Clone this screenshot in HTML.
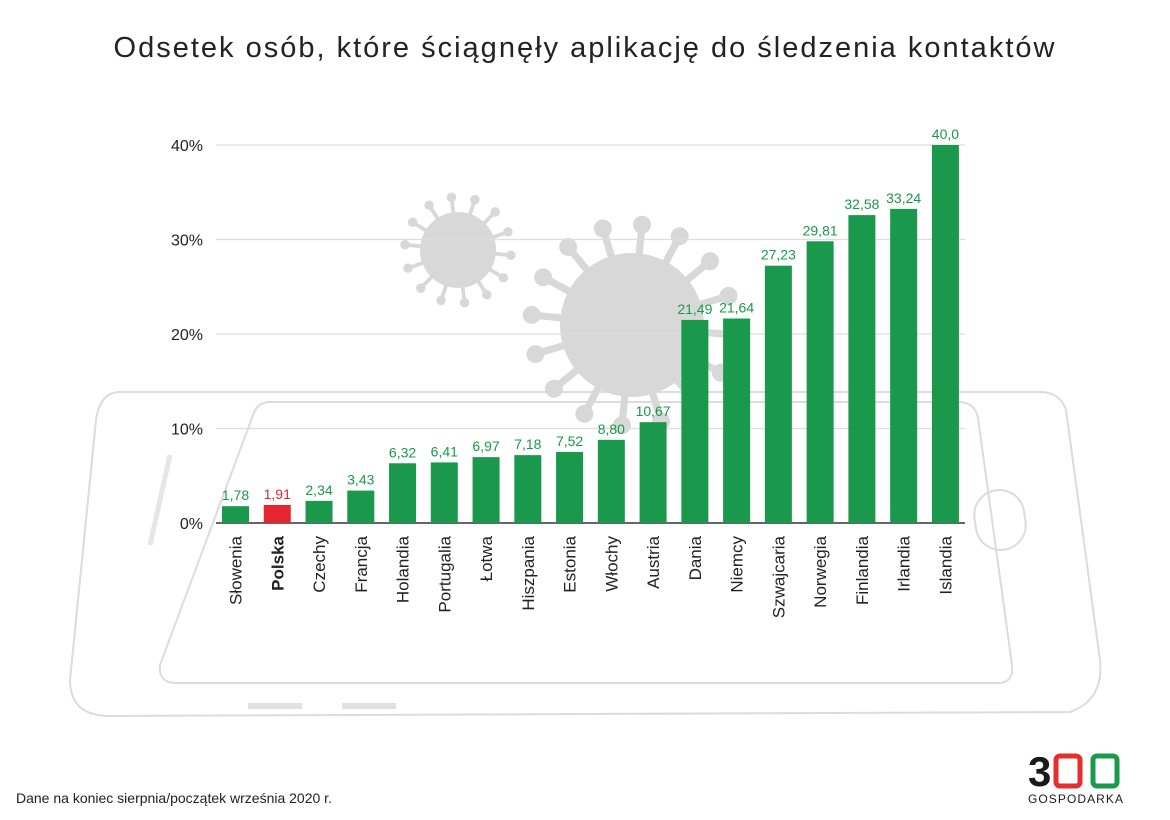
<!DOCTYPE html>
<html><head><meta charset="utf-8"><style>
body{margin:0;background:#fff;width:1170px;height:820px;overflow:hidden;font-family:"Liberation Sans",sans-serif}
svg{display:block}
</style></head><body>
<svg id="c" width="1170" height="820" xmlns="http://www.w3.org/2000/svg">
<g fill="none" stroke="#dcdcdc" stroke-width="2">
<path d="M120,392 L1040,392 Q1060,392 1066,410 L1100,660 Q1104,700 1070,712 L110,716 Q70,716 70,680 L96,420 Q100,392 120,392 Z"/>
<path d="M270,402 L958,402 Q975,402 978,418 L1012,665 Q1014,683 998,683 L176,683 Q158,683 160,665 L252,418 Q256,402 270,402 Z"/>
<rect x="975" y="490" width="50" height="60" rx="25" transform="rotate(-8 1000 520)"/>
<line x1="150" y1="545" x2="170" y2="455" stroke-width="5" stroke="#e6e6e6"/>
<line x1="248" y1="706" x2="302" y2="706" stroke-width="6" stroke="#e0e0e0"/>
<line x1="342" y1="706" x2="396" y2="706" stroke-width="6" stroke="#e0e0e0"/>
</g>
<g id="viruses" fill="#d8d8d8"></g>
<text x="585" y="57" text-anchor="middle" font-size="29" fill="#222" letter-spacing="2">Odsetek osób, które ściągnęły aplikację do śledzenia kontaktów</text>
<g id="grid"></g><g id="bars"></g>
<text x="16" y="803" font-size="14" fill="#222">Dane na koniec sierpnia/początek września 2020 r.</text>
<g>
<text x="1028" y="786" font-size="42" font-weight="bold" fill="#1a1a1a">3</text>
<rect x="1056" y="756" width="24" height="30" rx="4" fill="none" stroke="#e52e2e" stroke-width="5"/>
<rect x="1093" y="756" width="24" height="30" rx="4" fill="none" stroke="#1a9a4a" stroke-width="5"/>
<text x="1028" y="803" font-size="12" fill="#1a1a1a" textLength="95">GOSPODARKA</text>
</g>
</svg>
<script>
const categories=["Słowenia","Polska","Czechy","Francja","Holandia","Portugalia","Łotwa","Hiszpania","Estonia","Włochy","Austria","Dania","Niemcy","Szwajcaria","Norwegia","Finlandia","Irlandia","Islandia"];
const values=[1.78,1.91,2.34,3.43,6.32,6.41,6.97,7.18,7.52,8.80,10.67,21.49,21.64,27.23,29.81,32.58,33.24,40.0];
const labels=["1,78","1,91","2,34","3,43","6,32","6,41","6,97","7,18","7,52","8,80","10,67","21,49","21,64","27,23","29,81","32,58","33,24","40,0"];
const ticks=[0,10,20,30,40];
const NS="http://www.w3.org/2000/svg";
const y=v=>523-v*9.45, x=i=>235.5+i*41.76;
function mk(t,a,p){const e=document.createElementNS(NS,t);for(const k in a)e.setAttribute(k,a[k]);p.appendChild(e);return e;}
const V=document.getElementById('viruses');
[[458,250,38,14],[632,325,72,16]].forEach(([cx,cy,r,n])=>{
 mk('circle',{cx,cy,r},V);
 for(let k=0;k<n;k++){const a=k*2*Math.PI/n+0.1;const x2=cx+Math.cos(a)*r*1.4,y2=cy+Math.sin(a)*r*1.4;
 mk('line',{x1:cx,y1:cy,x2,y2,stroke:'#d8d8d8','stroke-width':r/10},V);mk('circle',{cx:x2,cy:y2,r:r/8},V);}
});
const G=document.getElementById('grid');
ticks.forEach(t=>{
 const l=mk('line',{x1:216,x2:965,y1:y(t),y2:y(t),stroke:t?'#dddddd':'#333','stroke-width':t?1.2:1.5},G);
 
 
 const tx=mk('text',{x:203,y:y(t)+6,'text-anchor':'end','font-size':16,fill:'#222'},G);tx.textContent=t+'%';
 
 
});
const B=document.getElementById('bars');
values.forEach((v,i)=>{
 const col=i==1?'#e52630':'#1a994c';
 const r=mk('rect',{x:x(i)-13.5,y:y(v),width:27,height:y(0)-y(v),fill:col},B);
 
 
 const t=mk('text',{x:x(i),y:y(v)-6,'text-anchor':'middle','font-size':14,fill:col},B);t.textContent=labels[i];
 
 
 const c=mk('text',{transform:`translate(${x(i)+6},536) rotate(-90)`,'text-anchor':'end','font-size':17,fill:'#222','font-weight':i==1?'bold':'normal'},B);c.textContent=categories[i];
 
 
});
</script>
</body></html>
